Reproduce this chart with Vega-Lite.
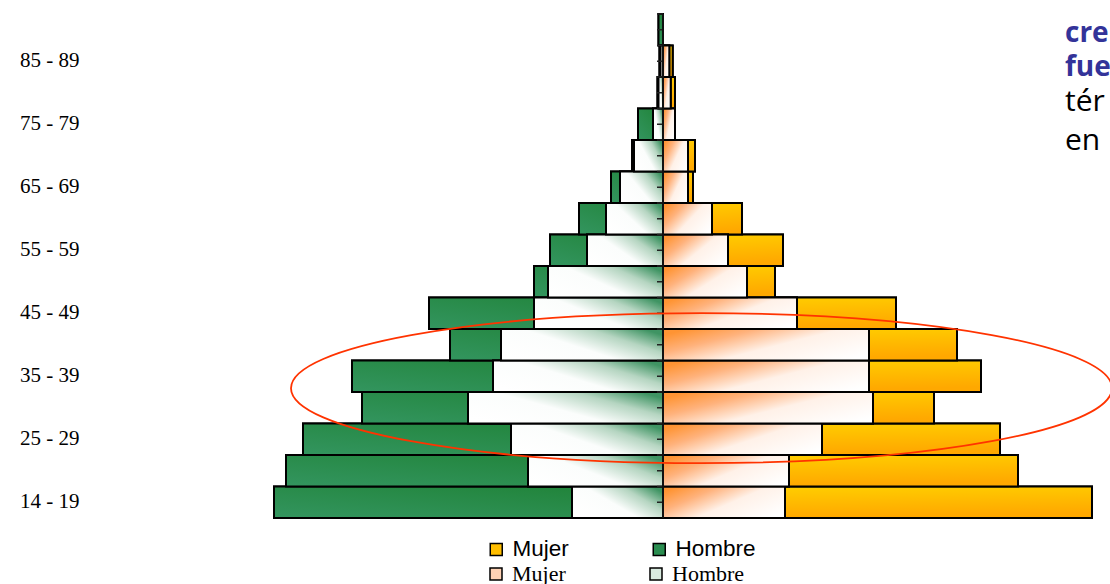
{
  "$schema": "https://vega.github.io/schema/vega-lite/v6.json",
  "width": 1025,
  "height": 504,
  "autosize": "none",
  "padding": {"left": 85, "top": 14, "right": 0, "bottom": 66},
  "background": "white",
  "config": {"view": {"stroke": null}},
  "title": {
    "text": ["cre", "fue"],
    "subtitle": ["tér", "en"],
    "anchor": "start",
    "frame": "group",
    "orient": "top",
    "offset": 0,
    "dx": 980,
    "dy": 143,
    "font": "Open Sans",
    "fontSize": 28,
    "fontWeight": "bold",
    "color": "#333399",
    "lineHeight": 34,
    "subtitleFont": "Open Sans",
    "subtitleFontSize": 30,
    "subtitleColor": "black",
    "subtitleLineHeight": 39,
    "subtitlePadding": 5
  },
  "data": {
    "values": [
      {"edad": "14 - 19", "sexo": "Hombre", "solido": -38.9, "degradado": -9.1},
      {"edad": "14 - 19", "sexo": "Mujer", "solido": 42.9, "degradado": 12.2},
      {"edad": "20 - 24", "sexo": "Hombre", "solido": -37.7, "degradado": -13.5},
      {"edad": "20 - 24", "sexo": "Mujer", "solido": 35.5, "degradado": 12.6},
      {"edad": "25 - 29", "sexo": "Hombre", "solido": -36.0, "degradado": -15.2},
      {"edad": "25 - 29", "sexo": "Mujer", "solido": 33.7, "degradado": 15.9},
      {"edad": "30 - 34", "sexo": "Hombre", "solido": -30.1, "degradado": -19.5},
      {"edad": "30 - 34", "sexo": "Mujer", "solido": 27.1, "degradado": 21.0},
      {"edad": "35 - 39", "sexo": "Hombre", "solido": -31.1, "degradado": -17.0},
      {"edad": "35 - 39", "sexo": "Mujer", "solido": 31.8, "degradado": 20.6},
      {"edad": "40 - 44", "sexo": "Hombre", "solido": -21.3, "degradado": -16.2},
      {"edad": "40 - 44", "sexo": "Mujer", "solido": 29.4, "degradado": 20.6},
      {"edad": "45  - 49", "sexo": "Hombre", "solido": -23.4, "degradado": -12.9},
      {"edad": "45  - 49", "sexo": "Mujer", "solido": 23.3, "degradado": 13.4},
      {"edad": "50 - 54", "sexo": "Hombre", "solido": -12.9, "degradado": -11.5},
      {"edad": "50 - 54", "sexo": "Mujer", "solido": 11.2, "degradado": 8.4},
      {"edad": "55 - 59", "sexo": "Hombre", "solido": -11.3, "degradado": -7.6},
      {"edad": "55 - 59", "sexo": "Mujer", "solido": 12.0, "degradado": 6.5},
      {"edad": "60 - 64", "sexo": "Hombre", "solido": -8.4, "degradado": -5.7},
      {"edad": "60 - 64", "sexo": "Mujer", "solido": 7.9, "degradado": 4.9},
      {"edad": "65 - 69", "sexo": "Hombre", "solido": -5.2, "degradado": -4.3},
      {"edad": "65 - 69", "sexo": "Mujer", "solido": 3.0, "degradado": 2.5},
      {"edad": "70 - 74", "sexo": "Hombre", "solido": -3.1, "degradado": -2.9},
      {"edad": "70 - 74", "sexo": "Mujer", "solido": 3.2, "degradado": 2.5},
      {"edad": "75 - 79", "sexo": "Hombre", "solido": -2.5, "degradado": -1.0},
      {"edad": "75 - 79", "sexo": "Mujer", "solido": 1.0, "degradado": 1.2},
      {"edad": "80 - 84", "sexo": "Hombre", "solido": -0.55, "degradado": -0.45},
      {"edad": "80 - 84", "sexo": "Mujer", "solido": 1.2, "degradado": 0.77},
      {"edad": "85 - 89", "sexo": "Hombre", "solido": -0.35, "degradado": -0.25},
      {"edad": "85 - 89", "sexo": "Mujer", "solido": 0.97, "degradado": 0.63},
      {"edad": "90 +", "sexo": "Hombre", "solido": -0.45, "degradado": 0},
      {"edad": "90 +", "sexo": "Mujer", "solido": 0, "degradado": 0}
    ]
  },
  "layer": [
    {
      "mark": {"type": "bar", "stroke": "black", "strokeWidth": 2},
      "encoding": {
        "x": {"field": "solido", "type": "quantitative", "scale": {"domain": [-57.8, 44.7], "nice": false}, "axis": null},
        "y": {
          "field": "edad", "type": "nominal",
          "scale": {"domain": ["90 +", "85 - 89", "80 - 84", "75 - 79", "70 - 74", "65 - 69", "60 - 64", "55 - 59", "50 - 54", "45  - 49", "40 - 44", "35 - 39", "30 - 34", "25 - 29", "20 - 24", "14 - 19"], "paddingInner": 0, "paddingOuter": 0},
          "axis": {"title": null, "values": ["85 - 89", "75 - 79", "65 - 69", "55 - 59", "45  - 49", "35 - 39", "25 - 29", "14 - 19"], "domain": false, "ticks": false, "grid": false, "labelPadding": 6, "labelFont": "Liberation Serif", "labelFontSize": 21, "labelColor": "black"}
        },
        "color": {
          "field": "sexo", "type": "nominal",
          "scale": {"domain": ["Mujer", "Hombre"], "range": ["#ffbe00", "#2a8d50"]},
          "legend": {
            "title": null, "orient": "none", "legendX": 400, "legendY": 524,
            "direction": "horizontal", "columns": 2, "columnPadding": 79, "padding": 0,
            "symbolType": "square", "symbolSize": 144, "symbolStrokeColor": "black", "symbolStrokeWidth": 1.5,
            "labelFont": "Liberation Sans", "labelFontSize": 22.5, "labelColor": "black", "labelOffset": 5, "labelLimit": 300,
            "encode": {"symbols": {"update": {
              "stroke": {"value": "black"}, "strokeWidth": {"value": 1.5}, "opacity": {"value": 1},
              "fill": [
                {"test": "datum.value === 'Mujer'", "value": {"gradient": "linear", "x1": 0, "y1": 0, "x2": 0.2, "y2": 1, "stops": [{"offset": 0, "color": "#ffd000"}, {"offset": 1, "color": "#ffa000"}]}},
                {"value": {"gradient": "linear", "x1": 0, "y1": 1, "x2": 1, "y2": 0, "stops": [{"offset": 0, "color": "#33955f"}, {"offset": 1, "color": "#1c7f30"}]}}
              ]
            }}}
          }
        }
      }
    },
    {
      "transform": [{"filter": "datum.sexo === 'Hombre'"}],
      "mark": {"type": "bar", "stroke": "black", "strokeWidth": 2,
        "fill": {"gradient": "linear", "x1": 0, "y1": 1, "x2": 1, "y2": 0, "stops": [{"offset": 0, "color": "#33955f"}, {"offset": 1, "color": "#1f8236"}]}},
      "encoding": {
        "x": {"field": "solido", "type": "quantitative", "scale": {"domain": [-57.8, 44.7], "nice": false}, "axis": null},
        "y": {
          "field": "edad", "type": "nominal",
          "scale": {"domain": ["90 +", "85 - 89", "80 - 84", "75 - 79", "70 - 74", "65 - 69", "60 - 64", "55 - 59", "50 - 54", "45  - 49", "40 - 44", "35 - 39", "30 - 34", "25 - 29", "20 - 24", "14 - 19"], "paddingInner": 0, "paddingOuter": 0},
          "axis": {"title": null, "values": ["85 - 89", "75 - 79", "65 - 69", "55 - 59", "45  - 49", "35 - 39", "25 - 29", "14 - 19"], "domain": false, "ticks": false, "grid": false, "labelPadding": 6, "labelFont": "Liberation Serif", "labelFontSize": 21, "labelColor": "black"}
        }
      }
    },
    {
      "transform": [{"filter": "datum.sexo === 'Mujer'"}],
      "mark": {"type": "bar", "stroke": "black", "strokeWidth": 2,
        "fill": {"gradient": "linear", "x1": 0, "y1": 0, "x2": 0.2, "y2": 1, "stops": [{"offset": 0, "color": "#ffd000"}, {"offset": 1, "color": "#ffa800"}]}},
      "encoding": {
        "x": {"field": "solido", "type": "quantitative", "scale": {"domain": [-57.8, 44.7], "nice": false}, "axis": null},
        "y": {
          "field": "edad", "type": "nominal",
          "scale": {"domain": ["90 +", "85 - 89", "80 - 84", "75 - 79", "70 - 74", "65 - 69", "60 - 64", "55 - 59", "50 - 54", "45  - 49", "40 - 44", "35 - 39", "30 - 34", "25 - 29", "20 - 24", "14 - 19"], "paddingInner": 0, "paddingOuter": 0},
          "axis": {"title": null, "values": ["85 - 89", "75 - 79", "65 - 69", "55 - 59", "45  - 49", "35 - 39", "25 - 29", "14 - 19"], "domain": false, "ticks": false, "grid": false, "labelPadding": 6, "labelFont": "Liberation Serif", "labelFontSize": 21, "labelColor": "black"}
        }
      }
    },
    {
      "mark": {"type": "bar", "stroke": "black", "strokeWidth": 2},
      "encoding": {
        "x": {"field": "degradado", "type": "quantitative", "scale": {"domain": [-57.8, 44.7], "nice": false}, "axis": null},
        "y": {
          "field": "edad", "type": "nominal",
          "scale": {"domain": ["90 +", "85 - 89", "80 - 84", "75 - 79", "70 - 74", "65 - 69", "60 - 64", "55 - 59", "50 - 54", "45  - 49", "40 - 44", "35 - 39", "30 - 34", "25 - 29", "20 - 24", "14 - 19"], "paddingInner": 0, "paddingOuter": 0},
          "axis": {"title": null, "values": ["85 - 89", "75 - 79", "65 - 69", "55 - 59", "45  - 49", "35 - 39", "25 - 29", "14 - 19"], "domain": false, "ticks": false, "grid": false, "labelPadding": 6, "labelFont": "Liberation Serif", "labelFontSize": 21, "labelColor": "black"}
        },
        "fill": {
          "field": "sexo", "type": "nominal",
          "scale": {"domain": ["Hombre", "Mujer"], "range": ["#d8eadf", "#ffd2b4"]},
          "legend": {
            "title": null, "orient": "none", "legendX": 400, "legendY": 549, "values": ["Mujer", "Hombre"],
            "direction": "horizontal", "columns": 2, "columnPadding": 79, "padding": 0,
            "symbolType": "square", "symbolSize": 144, "symbolStrokeColor": "black", "symbolStrokeWidth": 1.5,
            "labelFont": "Liberation Serif", "labelFontSize": 22, "labelColor": "black", "labelOffset": 5, "labelLimit": 300,
            "encode": {"symbols": {"update": {
              "stroke": {"value": "black"}, "strokeWidth": {"value": 1.5}, "opacity": {"value": 1},
              "fill": [
                {"test": "datum.value === 'Mujer'", "value": {"gradient": "linear", "x1": 0, "y1": 0, "x2": 1, "y2": 1, "stops": [{"offset": 0, "color": "#ff9433"}, {"offset": 0.6, "color": "#fff1e8"}, {"offset": 1, "color": "#ffffff"}]}},
                {"value": {"gradient": "linear", "x1": 0, "y1": 0.8, "x2": 1, "y2": 0.2, "stops": [{"offset": 0, "color": "#ffffff"}, {"offset": 0.4, "color": "#f4f9f6"}, {"offset": 1, "color": "#2f8a55"}]}}
              ]
            }}}
          }
        }
      }
    },
    {
      "transform": [{"filter": "datum.sexo === 'Hombre'"}],
      "mark": {"type": "bar", "stroke": "black", "strokeWidth": 2,
        "fill": {"gradient": "linear", "x1": 0, "y1": 0.8, "x2": 1, "y2": 0.2, "stops": [{"offset": 0, "color": "#ffffff"}, {"offset": 0.45, "color": "#fbfdfc"}, {"offset": 0.75, "color": "#b5d5c1"}, {"offset": 1, "color": "#3f9463"}]}},
      "encoding": {
        "x": {"field": "degradado", "type": "quantitative", "scale": {"domain": [-57.8, 44.7], "nice": false}, "axis": null},
        "y": {
          "field": "edad", "type": "nominal",
          "scale": {"domain": ["90 +", "85 - 89", "80 - 84", "75 - 79", "70 - 74", "65 - 69", "60 - 64", "55 - 59", "50 - 54", "45  - 49", "40 - 44", "35 - 39", "30 - 34", "25 - 29", "20 - 24", "14 - 19"], "paddingInner": 0, "paddingOuter": 0},
          "axis": {"title": null, "values": ["85 - 89", "75 - 79", "65 - 69", "55 - 59", "45  - 49", "35 - 39", "25 - 29", "14 - 19"], "domain": false, "ticks": false, "grid": false, "labelPadding": 6, "labelFont": "Liberation Serif", "labelFontSize": 21, "labelColor": "black"}
        }
      }
    },
    {
      "transform": [{"filter": "datum.sexo === 'Mujer'"}],
      "mark": {"type": "bar", "stroke": "black", "strokeWidth": 2,
        "fill": {"gradient": "linear", "x1": 0, "y1": 0.2, "x2": 1, "y2": 0.8, "stops": [{"offset": 0, "color": "#ff9433"}, {"offset": 0.25, "color": "#ffb27c"}, {"offset": 0.55, "color": "#fff1e8"}, {"offset": 1, "color": "#ffffff"}]}},
      "encoding": {
        "x": {"field": "degradado", "type": "quantitative", "scale": {"domain": [-57.8, 44.7], "nice": false}, "axis": null},
        "y": {
          "field": "edad", "type": "nominal",
          "scale": {"domain": ["90 +", "85 - 89", "80 - 84", "75 - 79", "70 - 74", "65 - 69", "60 - 64", "55 - 59", "50 - 54", "45  - 49", "40 - 44", "35 - 39", "30 - 34", "25 - 29", "20 - 24", "14 - 19"], "paddingInner": 0, "paddingOuter": 0},
          "axis": {"title": null, "values": ["85 - 89", "75 - 79", "65 - 69", "55 - 59", "45  - 49", "35 - 39", "25 - 29", "14 - 19"], "domain": false, "ticks": false, "grid": false, "labelPadding": 6, "labelFont": "Liberation Serif", "labelFontSize": 21, "labelColor": "black"}
        }
      }
    },
    {
      "transform": [{"filter": "datum.sexo === 'Hombre'"}],
      "mark": {"type": "tick", "orient": "horizontal", "size": 6, "thickness": 1.5, "color": "#222222", "opacity": 1},
      "encoding": {
        "x": {"datum": -0.3, "scale": {"domain": [-57.8, 44.7], "nice": false}, "axis": null},
        "y": {
          "field": "edad", "type": "nominal",
          "scale": {"domain": ["90 +", "85 - 89", "80 - 84", "75 - 79", "70 - 74", "65 - 69", "60 - 64", "55 - 59", "50 - 54", "45  - 49", "40 - 44", "35 - 39", "30 - 34", "25 - 29", "20 - 24", "14 - 19"], "paddingInner": 0, "paddingOuter": 0},
          "axis": {"title": null, "values": ["85 - 89", "75 - 79", "65 - 69", "55 - 59", "45  - 49", "35 - 39", "25 - 29", "14 - 19"], "domain": false, "ticks": false, "grid": false, "labelPadding": 6, "labelFont": "Liberation Serif", "labelFontSize": 21, "labelColor": "black"}
        }
      }
    },
    {
      "transform": [{"filter": "datum.sexo === 'Hombre'"}],
      "mark": {"type": "tick", "orient": "horizontal", "size": 6, "thickness": 1.5, "color": "#222222", "opacity": 1},
      "encoding": {
        "x": {"datum": -0.3, "scale": {"domain": [-57.8, 44.7], "nice": false}, "axis": null},
        "y": {
          "field": "edad", "type": "nominal", "bandPosition": 0,
          "scale": {"domain": ["90 +", "85 - 89", "80 - 84", "75 - 79", "70 - 74", "65 - 69", "60 - 64", "55 - 59", "50 - 54", "45  - 49", "40 - 44", "35 - 39", "30 - 34", "25 - 29", "20 - 24", "14 - 19"], "paddingInner": 0, "paddingOuter": 0},
          "axis": {"title": null, "values": ["85 - 89", "75 - 79", "65 - 69", "55 - 59", "45  - 49", "35 - 39", "25 - 29", "14 - 19"], "domain": false, "ticks": false, "grid": false, "labelPadding": 6, "labelFont": "Liberation Serif", "labelFontSize": 21, "labelColor": "black"}
        }
      }
    },
    {
      "data": {"values": [{"nota": "eje"}]},
      "mark": {"type": "rule", "color": "#111111", "strokeWidth": 2},
      "encoding": {
        "x": {"datum": 0, "scale": {"domain": [-57.8, 44.7], "nice": false}, "axis": null}
      }
    },
    {
      "data": {"values": [{"nota": "elipse"}]},
      "mark": {"type": "point", "shape": "M-1,0.029A1,0.1827,0,1,0,1,0.029A1,0.1827,0,1,0,-1,0.029Z", "filled": false, "stroke": "#ff3300", "strokeWidth": 1.8, "opacity": 1, "size": 674041},
      "encoding": {
        "x": {"datum": 3.85, "scale": {"domain": [-57.8, 44.7], "nice": false}, "axis": null},
        "y": {
          "datum": "35 - 39", "type": "nominal",
          "scale": {"domain": ["90 +", "85 - 89", "80 - 84", "75 - 79", "70 - 74", "65 - 69", "60 - 64", "55 - 59", "50 - 54", "45  - 49", "40 - 44", "35 - 39", "30 - 34", "25 - 29", "20 - 24", "14 - 19"], "paddingInner": 0, "paddingOuter": 0},
          "axis": {"title": null, "values": ["85 - 89", "75 - 79", "65 - 69", "55 - 59", "45  - 49", "35 - 39", "25 - 29", "14 - 19"], "domain": false, "ticks": false, "grid": false, "labelPadding": 6, "labelFont": "Liberation Serif", "labelFontSize": 21, "labelColor": "black"}
        }
      }
    }
  ]
}
